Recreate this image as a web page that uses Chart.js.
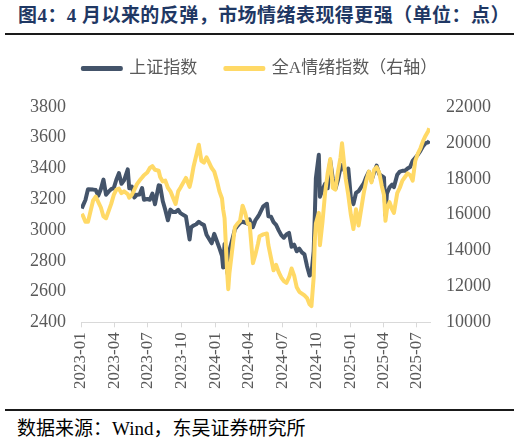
<!DOCTYPE html>
<html>
<head>
<meta charset="utf-8">
<script src="https://cdn.jsdelivr.net/npm/chart.js@4.4.1/dist/chart.umd.min.js"></script>
<style>
html, body { margin: 0; padding: 0; background: #fff; }
body { width: 520px; height: 445px; position: relative; overflow: hidden; font-family: "Liberation Serif", "Noto Sans CJK SC", serif; }
#title { position: absolute; left: 18px; top: 6px; font-size: 19px; line-height: 1; font-weight: bold; color: #1f3864; white-space: nowrap; letter-spacing: 0.45px; }
.rule { position: absolute; left: 5px; width: 509px; height: 2px; background: #1a1a1a; }
#wrap { position: absolute; left: 0; top: 32px; width: 520px; height: 362px; }
#src { position: absolute; left: 17px; top: 419px; font-size: 19px; line-height: 1; color: #000; white-space: nowrap; }
</style>
</head>
<body>
<div id="title">图4：4 月以来的反弹，市场情绪表现得更强（单位：点）</div>
<div class="rule" style="top:33px"></div>
<div id="wrap"><canvas id="myChart"></canvas></div>
<div class="rule" style="top:409px"></div>
<div id="src">数据来源：Wind，东吴证券研究所</div>
<script>
const ctx = document.getElementById('myChart');

// roughly weekly readings
const dates = [
    '2023-01-03', '2023-01-06', '2023-01-13', '2023-01-20', '2023-02-03', '2023-02-10', '2023-02-17', '2023-02-24',
    '2023-03-03', '2023-03-10', '2023-03-17', '2023-03-24', '2023-03-31', '2023-04-07', '2023-04-14', '2023-04-21',
    '2023-04-28', '2023-05-08', '2023-05-12', '2023-05-19', '2023-05-26', '2023-06-02', '2023-06-09', '2023-06-16',
    '2023-06-21', '2023-06-30', '2023-07-07', '2023-07-14', '2023-07-21', '2023-07-31', '2023-08-04', '2023-08-11',
    '2023-08-18', '2023-08-25', '2023-09-01', '2023-09-08', '2023-09-15', '2023-09-22', '2023-09-28', '2023-10-13',
    '2023-10-23', '2023-10-27', '2023-11-03', '2023-11-10', '2023-11-17', '2023-11-24', '2023-12-01', '2023-12-08',
    '2023-12-15', '2023-12-22', '2023-12-29',
    '2024-01-05', '2024-01-12', '2024-01-19', '2024-01-22', '2024-01-26', '2024-02-02', '2024-02-05', '2024-02-08',
    '2024-02-23', '2024-03-01', '2024-03-08', '2024-03-15', '2024-03-22', '2024-03-29', '2024-04-03', '2024-04-12',
    '2024-04-19', '2024-04-26', '2024-04-30', '2024-05-10', '2024-05-20', '2024-05-24', '2024-05-31', '2024-06-07',
    '2024-06-14', '2024-06-21', '2024-06-28', '2024-07-05', '2024-07-12', '2024-07-19', '2024-07-26', '2024-08-02',
    '2024-08-09', '2024-08-16', '2024-08-23', '2024-08-30', '2024-09-06', '2024-09-13', '2024-09-18', '2024-09-24',
    '2024-09-27', '2024-09-30', '2024-10-08', '2024-10-11', '2024-10-18', '2024-10-25', '2024-11-01', '2024-11-08',
    '2024-11-15', '2024-11-22', '2024-11-29', '2024-12-06', '2024-12-10', '2024-12-20', '2024-12-27',
    '2025-01-03', '2025-01-10', '2025-01-17', '2025-01-24', '2025-02-07', '2025-02-14', '2025-02-21', '2025-02-28',
    '2025-03-07', '2025-03-14', '2025-03-21', '2025-03-28', '2025-04-03', '2025-04-07', '2025-04-11', '2025-04-18',
    '2025-04-25', '2025-04-30', '2025-05-09', '2025-05-16', '2025-05-23', '2025-05-30', '2025-06-06', '2025-06-13',
    '2025-06-20', '2025-06-27', '2025-07-04', '2025-07-11', '2025-07-18', '2025-07-25', '2025-08-01', '2025-08-04'
];

const shIndex = [
    3140, 3157, 3195, 3265, 3263, 3260, 3224, 3267,
    3328, 3230, 3250, 3266, 3273, 3327, 3370, 3301,
    3323, 3395, 3272, 3283, 3212, 3230, 3231, 3273,
    3197, 3202, 3197, 3237, 3168, 3291, 3288, 3189,
    3131, 3064, 3133, 3117, 3117, 3132, 3110, 3088,
    2939, 3017, 3030, 3038, 3054, 3041, 3032, 2969,
    2942, 2914, 2975,
    2929, 2882, 2832, 2756, 2910, 2730, 2702, 2866,
    3004, 3027, 3046, 3054, 3048, 3041, 3069, 3019,
    3065, 3088, 3105, 3154, 3171, 3089, 3087, 3051,
    3033, 2998, 2967, 2950, 2971, 2982, 2891, 2905,
    2862, 2879, 2855, 2842, 2765, 2704, 2717, 2863,
    3088, 3336, 3489, 3217, 3261, 3300, 3272, 3452,
    3331, 3267, 3326, 3404, 3422, 3368, 3400,
    3211, 3169, 3241, 3253, 3303, 3346, 3379, 3321,
    3373, 3419, 3364, 3351, 3342, 3097, 3238, 3277,
    3295, 3279, 3360, 3380, 3385, 3385, 3400, 3410,
    3450, 3470, 3490, 3515, 3545, 3565, 3570, 3580
];

const sentiment = [
    16050, 15950, 15600, 15600, 16800, 17000, 16700, 16400,
    15900, 15800, 16200, 16600, 17100, 17400, 17450, 17200,
    17300, 17150, 16950, 17100, 17400, 17700, 17900, 18070,
    18200, 18350, 18600, 18700, 18500, 18450, 18100, 17850,
    17900, 17500, 17300, 16950, 16600, 17300, 17500, 18050,
    17550, 17900, 18700, 19300, 19900, 19000, 18900, 19200,
    18900, 18600, 18400,
    17900, 17300, 16900, 16300, 15800, 12800, 11850, 12700,
    15300, 15500, 15650, 16500, 16100, 15500, 15500, 13300,
    13800, 14400, 14800, 14900, 14950, 14300, 13600, 12900,
    13200, 12800, 12500, 12300, 12200, 12500, 13000, 12600,
    11950, 11700, 11600, 11500, 11350, 11000, 10900, 12500,
    14500, 15500, 16100, 14300, 15600, 17200, 18300, 19100,
    17500, 17400, 18400, 19200, 19980, 18000, 17100,
    16000, 15200, 16300, 15400, 17200, 17900, 18400, 17800,
    18500, 18650, 18350, 17600, 17100, 15660, 16300, 16700,
    16300, 16100, 17200, 17500, 17900, 18100, 18300, 18200,
    17900, 19000, 19400, 19700, 20100, 20400, 20650, 20820
];

const tickLabels = ['2023-01', '2023-04', '2023-07', '2023-10', '2024-01', '2024-04',
    '2024-07', '2024-10', '2025-01', '2025-04', '2025-07'];
const axisEnd = '2025-08-06';

const fontFamily = '"Liberation Serif", "Noto Sans CJK SC", serif';

function dayOf(s) {
    const p = s.split('-').map(Number);
    return (Date.UTC(p[0], p[1] - 1, p[2] || 1) - Date.UTC(2023, 0, 1)) / 86400000;
}

function points(values) {
    return dates.map((d, i) => ({ x: dayOf(d), y: values[i] }));
}

// leave a gap under the legend, like the original
const legendGap = {
    id: 'legendGap',
    beforeInit(chart) {
        const fit = chart.legend.fit;
        chart.legend.fit = function () {
            fit.bind(chart.legend)();
            this.height += 20;
        };
    }
};

let myChart = new Chart(ctx, {
    type: 'line',
    data: {
        datasets: [{
            label: '上证指数',
            data: points(shIndex),
            borderColor: '#44546a',
            backgroundColor: '#44546a',
            borderWidth: 4,
            borderJoinStyle: 'round',
            pointRadius: 0,
            yAxisID: 'y',
            order: 1
        }, {
            label: '全A情绪指数（右轴）',
            data: points(sentiment),
            borderColor: '#ffd966',
            backgroundColor: '#ffd966',
            borderWidth: 4,
            borderJoinStyle: 'round',
            pointRadius: 0,
            yAxisID: 'y1',
            order: 0
        }]
    },
    options: {
        animation: false,
        maintainAspectRatio: false,
        layout: { padding: { left: 29, right: 29, top: 0, bottom: 0 } },
        plugins: {
            tooltip: { enabled: false },
            legend: {
                labels: {
                    boxWidth: 38,
                    boxHeight: 1,
                    padding: 28,
                    color: '#595959',
                    font: { family: fontFamily, size: 17 },
                    sort: (a, b) => a.datasetIndex - b.datasetIndex
                }
            }
        },
        scales: {
            x: {
                type: 'linear',
                min: 0,
                max: dayOf(axisEnd),
                afterBuildTicks: axis => {
                    axis.ticks = tickLabels.map(s => ({ value: dayOf(s) }));
                },
                ticks: {
                    autoSkip: false,
                    minRotation: 90,
                    maxRotation: 90,
                    padding: 5,
                    color: '#595959',
                    font: { family: fontFamily, size: 17 },
                    callback: (value, index) => tickLabels[index]
                },
                grid: { drawOnChartArea: false, tickLength: 5, color: '#d9d9d9' },
                border: { color: '#d9d9d9' }
            },
            y: {
                position: 'left',
                min: 2400,
                max: 3800,
                afterFit: axis => { axis.width = 52; },
                ticks: {
                    stepSize: 200,
                    padding: 15,
                    color: '#595959',
                    font: { family: fontFamily, size: 18 },
                    callback: value => String(value)
                },
                grid: { display: false, drawTicks: false },
                border: { display: false }
            },
            y1: {
                position: 'right',
                min: 10000,
                max: 22000,
                afterFit: axis => { axis.width = 61; },
                ticks: {
                    stepSize: 2000,
                    padding: 16,
                    color: '#595959',
                    font: { family: fontFamily, size: 18 },
                    callback: value => String(value)
                },
                grid: { display: false, drawTicks: false },
                border: { display: false }
            }
        }
    },
    plugins: [legendGap]
});
</script>
</body>
</html>
